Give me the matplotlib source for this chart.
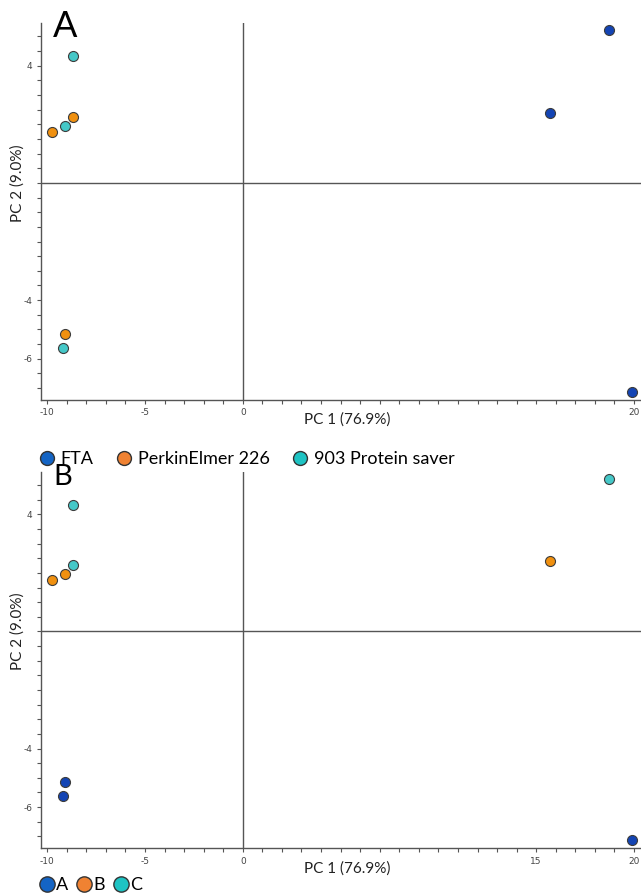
import matplotlib
matplotlib.use("Agg")
import matplotlib.pyplot as plt
from matplotlib.lines import Line2D

# PCA scores (same 9 samples in both panels)
pc1 = [18.74, 15.70, 19.89, -9.76, -8.70, -9.11, -8.70, -9.11, -9.20]
pc2 = [5.22, 2.40, -7.13, 1.75, 2.26, -5.16, 4.33, 1.95, -5.63]

# grouping used in each panel
groups_a = ["FTA", "FTA", "FTA",
            "PerkinElmer 226", "PerkinElmer 226", "PerkinElmer 226",
            "903 Protein saver", "903 Protein saver", "903 Protein saver"]
groups_b = ["C", "B", "A", "B", "C", "A", "C", "B", "A"]

labels_a = ["FTA", "PerkinElmer 226", "903 Protein saver"]
labels_b = ["A", "B", "C"]

xticks_a = [-10, -5, 0, 20]
xticks_b = [-10, -5, 0, 15, 20]
yticks = [4, -4, -6]

point_colors = ["#1344b4", "#f0900f", "#45c8c8"]
legend_colors = ["#1464c4", "#f08232", "#1ec3c3"]

W, H = 641, 894
fig = plt.figure(figsize=(W / 100, H / 100), dpi=100)


def fx(px):
    return px / W


def fy(py):
    return 1 - py / H


def panel(top, bottom, groups, labels, xticks, letter, letter_size, letter_top):
    ax = fig.add_axes([fx(41), fy(bottom), fx(641 - 41), (bottom - top) / H])
    ax.set_xlim(-10.32, 20.36)
    ax.set_ylim(-7.41, 5.46)
    for lab, col in zip(labels, point_colors):
        xs = [x for x, g in zip(pc1, groups) if g == lab]
        ys = [y for y, g in zip(pc2, groups) if g == lab]
        ax.scatter(xs, ys, s=52, color=col, edgecolor="#3c3c3c",
                   linewidth=0.8, zorder=3)
    ax.axhline(0, color="#555555", lw=1.0, zorder=1)
    ax.axvline(0, color="#555555", lw=1.0, zorder=1)
    for s in ["top", "right"]:
        ax.spines[s].set_visible(False)
    for s in ["left", "bottom"]:
        ax.spines[s].set_color("#555555")
        ax.spines[s].set_linewidth(1.0)
    ax.set_xticks(range(-10, 21), minor=True)
    ax.set_yticks([v * 0.5 for v in range(-14, 11)], minor=True)
    ax.set_xticks(xticks)
    ax.set_yticks(yticks)
    ax.set_xticklabels([str(v) for v in xticks])
    ax.set_yticklabels([str(v) for v in yticks])
    ax.tick_params(which="both", direction="out", length=3, width=0.8,
                   color="#555555", labelsize=6.5, labelcolor="#444444", pad=3)
    ax.text(fx(53), fy(letter_top), letter, transform=fig.transFigure,
            fontsize=letter_size, family="Lato", va="top", ha="left")
    # axis titles
    fig.text(fx(347), fy(bottom + 20), "PC 1 (76.9%)", family="Lato",
             fontsize=11, ha="center", va="center", color="#222222")
    zero_py = top + (bottom - top) * 5.46 / (5.46 + 7.41)
    fig.text(fx(18), fy(zero_py), "PC 2 (9.0%)", family="Lato",
             fontsize=11, rotation=90, ha="center", va="center",
             color="#222222")
    return ax


panel(23, 400, groups_a, labels_a, xticks_a, "A", 26, 10)
panel(471.7, 848.3, groups_b, labels_b, xticks_b, "B", 21, 464)

handles_a = [Line2D([], [], marker="o", ls="none", markersize=10,
                    markerfacecolor=c, markeredgecolor="#333333")
             for c in legend_colors]
fig.legend(handles_a, labels_a, loc="center left",
           bbox_to_anchor=(fx(38), fy(459)), ncol=3, frameon=False,
           prop={"family": "Lato", "size": 13}, handletextpad=0.25,
           columnspacing=1.2, handlelength=1.0, borderpad=0, borderaxespad=0)

handles_b = [Line2D([], [], marker="o", ls="none", markersize=11,
                    markerfacecolor=c, markeredgecolor="#333333")
             for c in legend_colors]
fig.legend(handles_b, labels_b, loc="center left",
           bbox_to_anchor=(fx(38), fy(885)), ncol=3, frameon=False,
           prop={"family": "Lato", "size": 13}, handletextpad=0.0,
           columnspacing=0.4, handlelength=1.0, borderpad=0, borderaxespad=0)

fig.savefig("out.png", dpi=100)
